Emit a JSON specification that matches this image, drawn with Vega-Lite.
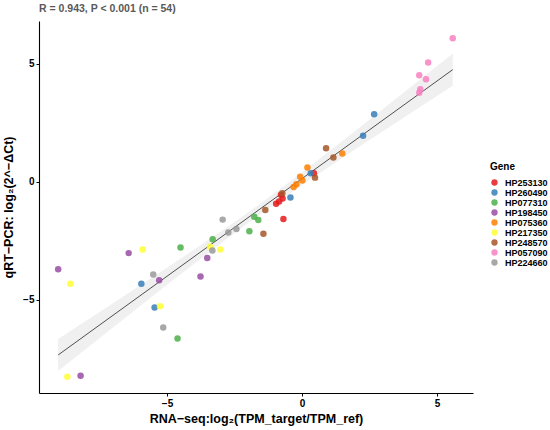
{
  "$schema": "https://vega.github.io/schema/vega-lite/v6.json",
  "autosize": "none",
  "width": 434,
  "height": 372,
  "padding": {"left": 39, "top": 21, "right": 77, "bottom": 37},
  "background": "white",
  "config": {
    "font": "Liberation Sans",
    "view": {"stroke": null},
    "axis": {"grid": false, "domainColor": "black", "tickColor": "black", "domainWidth": 1.1, "tickWidth": 1, "tickSize": 3, "labelColor": "black", "labelFontWeight": "bold", "labelFontSize": 10, "titleFontWeight": "bold", "titleFontSize": 12.5, "titleColor": "black", "labelFont": "Liberation Sans", "titleFont": "Liberation Sans"}
  },
  "title": {"text": "R = 0.943, P < 0.001 (n = 54)", "anchor": "start", "frame": "group", "fontSize": 10.5, "fontWeight": "bold", "color": "#595959", "offset": 7, "font": "Liberation Sans"},
  "datasets": {
    "pts": [
      {"gene": "HP253130", "rna": -0.78, "qpcr": -0.55},
      {"gene": "HP253130", "rna": -0.72, "qpcr": -0.70},
      {"gene": "HP253130", "rna": -0.85, "qpcr": -0.83},
      {"gene": "HP253130", "rna": -0.96, "qpcr": -0.93},
      {"gene": "HP253130", "rna": -0.69, "qpcr": -1.57},
      {"gene": "HP253130", "rna": 0.44, "qpcr": 0.37},
      {"gene": "HP260490", "rna": -0.43, "qpcr": -0.66},
      {"gene": "HP260490", "rna": 0.32, "qpcr": 0.37},
      {"gene": "HP260490", "rna": 2.26, "qpcr": 1.96},
      {"gene": "HP260490", "rna": 2.67, "qpcr": 2.87},
      {"gene": "HP260490", "rna": -5.95, "qpcr": -4.32},
      {"gene": "HP260490", "rna": -5.46, "qpcr": -5.33},
      {"gene": "HP077310", "rna": -1.77, "qpcr": -1.48},
      {"gene": "HP077310", "rna": -1.62, "qpcr": -1.62},
      {"gene": "HP077310", "rna": -1.95, "qpcr": -2.09},
      {"gene": "HP077310", "rna": -3.31, "qpcr": -2.43},
      {"gene": "HP077310", "rna": -4.50, "qpcr": -2.78},
      {"gene": "HP077310", "rna": -4.61, "qpcr": -6.64},
      {"gene": "HP198450", "rna": -3.51, "qpcr": -3.23},
      {"gene": "HP198450", "rna": -3.76, "qpcr": -4.01},
      {"gene": "HP198450", "rna": -6.42, "qpcr": -3.02},
      {"gene": "HP198450", "rna": -9.03, "qpcr": -3.70},
      {"gene": "HP198450", "rna": -5.29, "qpcr": -4.17},
      {"gene": "HP198450", "rna": -8.20, "qpcr": -8.22},
      {"gene": "HP075360", "rna": 1.49, "qpcr": 1.20},
      {"gene": "HP075360", "rna": 0.20, "qpcr": 0.61},
      {"gene": "HP075360", "rna": -0.07, "qpcr": 0.22},
      {"gene": "HP075360", "rna": 0.01, "qpcr": 0.06},
      {"gene": "HP075360", "rna": -0.21, "qpcr": -0.10},
      {"gene": "HP075360", "rna": -0.31, "qpcr": -0.22},
      {"gene": "HP217350", "rna": -3.41, "qpcr": -2.75},
      {"gene": "HP217350", "rna": -3.03, "qpcr": -2.87},
      {"gene": "HP217350", "rna": -5.90, "qpcr": -2.87},
      {"gene": "HP217350", "rna": -8.58, "qpcr": -4.32},
      {"gene": "HP217350", "rna": -5.26, "qpcr": -5.27},
      {"gene": "HP217350", "rna": -8.69, "qpcr": -8.26},
      {"gene": "HP248570", "rna": 0.89, "qpcr": 1.43},
      {"gene": "HP248570", "rna": 1.16, "qpcr": 1.03},
      {"gene": "HP248570", "rna": 0.48, "qpcr": 0.18},
      {"gene": "HP248570", "rna": -0.73, "qpcr": -0.48},
      {"gene": "HP248570", "rna": -1.36, "qpcr": -1.19},
      {"gene": "HP248570", "rna": -1.43, "qpcr": -2.20},
      {"gene": "HP057090", "rna": 5.58, "qpcr": 6.09},
      {"gene": "HP057090", "rna": 4.67, "qpcr": 5.06},
      {"gene": "HP057090", "rna": 4.34, "qpcr": 4.52},
      {"gene": "HP057090", "rna": 4.59, "qpcr": 4.35},
      {"gene": "HP057090", "rna": 4.38, "qpcr": 3.93},
      {"gene": "HP057090", "rna": 4.34, "qpcr": 3.78},
      {"gene": "HP224660", "rna": -2.94, "qpcr": -1.60},
      {"gene": "HP224660", "rna": -2.43, "qpcr": -2.00},
      {"gene": "HP224660", "rna": -2.73, "qpcr": -2.15},
      {"gene": "HP224660", "rna": -3.32, "qpcr": -2.91},
      {"gene": "HP224660", "rna": -5.51, "qpcr": -3.93},
      {"gene": "HP224660", "rna": -5.14, "qpcr": -6.17}
    ],
    "band": [
      {"rna": -9.03, "lo": -8.02, "hi": -6.66},
      {"rna": -7.0, "lo": -6.17, "hi": -5.15},
      {"rna": -5.0, "lo": -4.36, "hi": -3.64},
      {"rna": -3.0, "lo": -2.60, "hi": -2.10},
      {"rna": -1.7, "lo": -1.49, "hi": -1.05},
      {"rna": 0.0, "lo": -0.13, "hi": 0.40},
      {"rna": 2.0, "lo": 1.40, "hi": 2.19},
      {"rna": 4.0, "lo": 2.90, "hi": 4.00},
      {"rna": 5.58, "lo": 4.08, "hi": 5.44}
    ]
  },
  "layer": [
    {
      "data": {"name": "band"},
      "mark": {"type": "area", "color": "#f0f0f0", "opacity": 1},
      "encoding": {
        "x": {"field": "rna", "type": "quantitative", "scale": {"domain": [-9.74, 6.33], "nice": false, "zero": false}},
        "y": {"field": "lo", "type": "quantitative", "scale": {"domain": [-8.95, 6.82], "nice": false, "zero": false}},
        "y2": {"field": "hi"}
      }
    },
    {
      "data": {"name": "pts"},
      "transform": [{"regression": "qpcr", "on": "rna"}],
      "mark": {"type": "line", "color": "#505050", "strokeWidth": 1},
      "encoding": {
        "x": {"field": "rna", "type": "quantitative"},
        "y": {"field": "qpcr", "type": "quantitative"}
      }
    },
    {
      "data": {"name": "pts"},
      "mark": {"type": "point", "filled": true, "shape": "circle", "size": 42, "opacity": 0.85},
      "encoding": {
        "x": {"field": "rna", "type": "quantitative", "axis": {"values": [-5, 0, 5], "title": "RNA−seq:log₂(TPM_target/TPM_ref)", "titlePadding": 4, "labelPadding": 2}},
        "y": {"field": "qpcr", "type": "quantitative", "axis": {"values": [-5, 0, 5], "title": "qRT−PCR: log₂(2^−ΔCt)", "titlePadding": 7, "labelPadding": 2}},
        "color": {
          "field": "gene", "type": "nominal",
          "scale": {
            "domain": ["HP253130", "HP260490", "HP077310", "HP198450", "HP075360", "HP217350", "HP248570", "HP057090", "HP224660"],
            "range": ["#E41A1C", "#377EB8", "#4DAF4A", "#984EA3", "#FF7F00", "#FFFF33", "#A65628", "#F781BF", "#999999"]
          },
          "legend": {"title": "Gene", "orient": "none", "legendX": 451, "legendY": 141, "titleFontSize": 10, "titleFontWeight": "bold", "titleColor": "black", "labelFontSize": 9, "labelFontWeight": "bold", "labelColor": "black", "symbolSize": 40, "rowPadding": 0, "titlePadding": 6, "labelOffset": 6}
        }
      }
    }
  ]
}
